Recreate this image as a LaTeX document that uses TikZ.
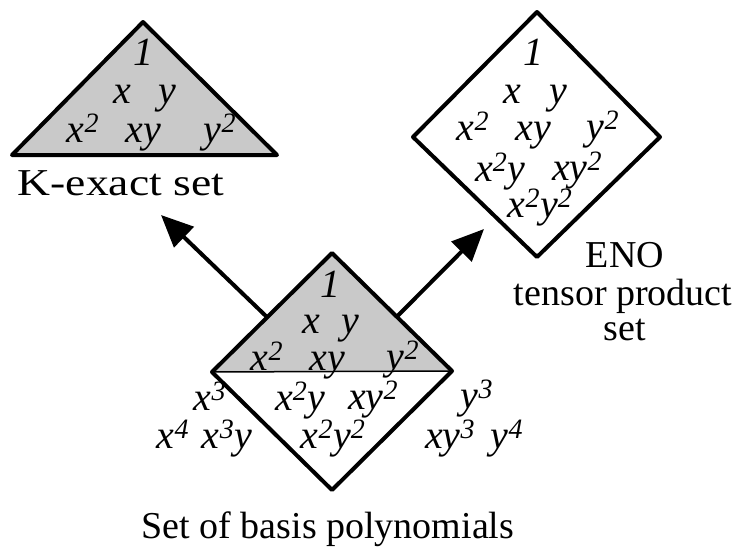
\documentclass[tikz,border=0pt]{standalone}
\usepackage{fontspec}
\setmainfont{Liberation Serif}
\newfontfamily\widefont[FakeStretch=1.2]{Liberation Serif}
\usetikzlibrary{arrows.meta,calc}

\newcommand{\pw}[2]{#1\textsuperscript{#2}}

\tikzset{
  mono/.style={font=\fontsize{40}{44}\selectfont\itshape, anchor=base, inner sep=0pt},
  caption/.style={font=\fontsize{38}{40}\selectfont, anchor=base, inner sep=0pt},
  hull/.style={line width=4pt, line join=round},
  shade/.style={fill=gray!42},
  push/.style={line width=4pt, -{Triangle[length=32pt,width=28pt]}}
}

\begin{document}
\begin{tikzpicture}[x=1pt, y=-1pt]
  \useasboundingbox (0,0) rectangle (741,555);

  % K-exact set
  \coordinate (ktop) at (143,22);
  \coordinate (kleft) at (12,155);
  \coordinate (kright) at (277,155);
  \draw [hull, shade] (kleft) -- (ktop) -- (kright) -- cycle;
  \node (k1) [mono] at (143,65) {1};
  \node (kx) [mono] at (122,103) {x};
  \node (ky) [mono] at (167,103) {y};
  \node (kxx) [mono] at (83,142) {\pw{x}{2}};
  \node (kxy) [mono] at (143,142) {xy};
  \node (kyy) [mono] at (220,142) {\pw{y}{2}};
  \node (klabel) [caption, font=\fontsize{38}{40}\widefont] at (121,195) {K-exact set};

  % ENO tensor product set
  \coordinate (etop) at (537,12);
  \coordinate (eleft) at (413,137);
  \coordinate (eright) at (660,137);
  \coordinate (ebot) at (537,257);
  \draw [hull] (etop) -- (eright) -- (ebot) -- (eleft) -- cycle;
  \node (e1) [mono] at (533,65) {1};
  \node (ex) [mono] at (512,103) {x};
  \node (ey) [mono] at (558,103) {y};
  \node (exx) [mono] at (473,140) {\pw{x}{2}};
  \node (exy) [mono] at (533,140) {xy};
  \node (eyy) [mono] at (603,139) {\pw{y}{2}};
  \node (exxy) [mono] at (500,181) {\pw{x}{2}y};
  \node (exyy) [mono] at (577,180) {x\pw{y}{2}};
  \node (exxyy) [mono] at (540,217) {\pw{x}{2}\pw{y}{2}};
  \node (eno1) [caption, text depth=0pt] at (625,267) {ENO};
  \node (eno2) [caption, text depth=0pt] at (623,305) {tensor product};
  \node (eno3) [caption, text depth=0pt] at (625,340) {set};

  % Set of basis polynomials
  \coordinate (btop) at (332,253);
  \coordinate (bleft) at (212,372);
  \coordinate (bright) at (452,371);
  \coordinate (bbot) at (332,490);
  \fill [shade] (bleft) -- (btop) -- (bright) -- cycle;
  \draw [line width=1.5pt] (bleft) -- (bright);
  \draw [hull] (btop) -- (bright) -- (bbot) -- (bleft) -- cycle;
  \node (b1) [mono] at (330,297) {1};
  \node (bx) [mono] at (311,333) {x};
  \node (by) [mono] at (350,333) {y};
  \node (bxx) [mono] at (267,370) {\pw{x}{2}};
  \node (bxy) [mono] at (327,370) {xy};
  \node (byy) [mono] at (403,369) {\pw{y}{2}};
  \node (bx3) [mono] at (210,410) {\pw{x}{3}};
  \node (bxxy) [mono] at (300,410) {\pw{x}{2}y};
  \node (bxyy) [mono] at (373,409) {x\pw{y}{2}};
  \node (by3) [mono] at (477,408) {\pw{y}{3}};
  \node (bx4) [mono] at (173,448) {\pw{x}{4}};
  \node (bx3y) [mono] at (227,448) {\pw{x}{3}y};
  \node (bxxyy) [mono] at (333,448) {\pw{x}{2}\pw{y}{2}};
  \node (bxy3) [mono] at (450,448) {x\pw{y}{3}};
  \node (by4) [mono] at (507,448) {\pw{y}{4}};
  \node (blabel) [caption] at (328,538) {Set of basis polynomials};

  % arrows
  \coordinate (lfoot) at ($(bleft)!0.46!(btop)$);
  \coordinate (rfoot) at ($(bright)!0.46!(btop)$);
  \coordinate (ltip) at (161,215);
  \coordinate (rtip) at (484,229);
  \draw [push] (lfoot) -- (ltip);
  \draw [push] (rfoot) -- (rtip);
\end{tikzpicture}
\end{document}
